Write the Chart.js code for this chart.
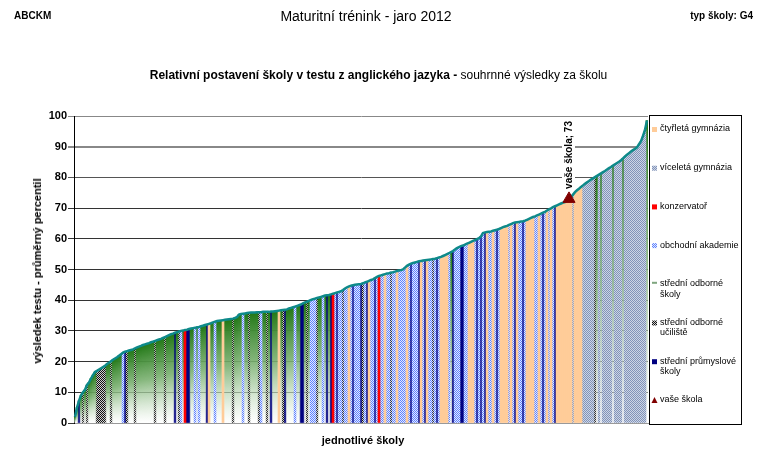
<!DOCTYPE html>
<html>
<head>
<meta charset="utf-8">
<script src="https://cdn.jsdelivr.net/npm/chart.js@4.4.1/dist/chart.umd.min.js"></script>
<style>
    body { margin: 0; background: #fff; font-family: "Liberation Sans", Arial, sans-serif; }
    #wrap { position: relative; width: 765px; height: 453px; overflow: hidden; }
    #chart { position: absolute; left: 0; top: 0; }
    .t { position: absolute; white-space: nowrap; color: #000; }
</style>
</head>
<body>
<div id="wrap">
    <canvas id="chart" width="765" height="453"></canvas>
    <div class="t" style="left:14px; top:10px; font-size:10px; font-weight:bold;">ABCKM</div>
    <div class="t" style="left:0; width:732px; text-align:center; top:8px; font-size:14px;">Maturitní trénink - jaro 2012</div>
    <div class="t" style="right:12px; top:10px; font-size:10px; font-weight:bold;">typ školy: G4</div>
    <div class="t" style="left:0; width:757px; text-align:center; top:68px; font-size:12px;"><b>Relativní postavení školy v testu z anglického jazyka -</b> souhrnné výsledky za školu</div>
    <div class="t" style="left:0; width:726px; text-align:center; top:434px; font-size:11px; font-weight:bold;">jednotlivé školy</div>
    <div class="t" style="left:37px; top:271px; font-size:11px; font-weight:bold; transform: translate(-50%,-50%) rotate(-90deg);">výsledek testu - průměrný percentil</div>
</div>
<script>
// average percentile of each school, sorted (one bar per school)
const results = [
    2.0, 5.0, 7.2, 9.0, 10.0, 10.8, 12.4, 13.2, 14.5, 15.6,
    16.6, 17.0, 17.4, 17.8, 18.2, 18.6, 19.2, 19.6, 20.1, 20.6,
    21.0, 21.4, 21.9, 22.4, 22.9, 23.2, 23.4, 23.6, 23.8, 24.0,
    24.3, 24.6, 24.9, 25.1, 25.4, 25.6, 25.8, 26.0, 26.3, 26.5,
    26.7, 27.0, 27.2, 27.4, 27.7, 28.0, 28.3, 28.6, 28.9, 29.1,
    29.4, 29.6, 29.8, 30.0, 30.1, 30.3, 30.4, 30.6, 30.8, 30.9,
    31.0, 31.2, 31.3, 31.5, 31.7, 31.9, 32.1, 32.3, 32.5, 32.8,
    33.0, 33.2, 33.3, 33.4, 33.5, 33.6, 33.7, 33.8, 33.9, 34.0,
    34.2, 34.5, 35.3, 35.5, 35.6, 35.7, 35.8, 35.9, 36.0, 36.0,
    36.0, 36.1, 36.1, 36.1, 36.2, 36.2, 36.2, 36.2, 36.3, 36.3,
    36.4, 36.5, 36.6, 36.7, 36.8, 36.9, 37.0, 37.3, 37.5, 37.7,
    37.9, 38.1, 38.4, 38.6, 39.0, 39.3, 39.5, 39.8, 40.1, 40.3,
    40.5, 40.7, 40.9, 41.1, 41.3, 41.5, 41.6, 41.7, 41.9, 42.1,
    42.3, 42.5, 42.7, 42.9, 43.3, 43.8, 44.2, 44.5, 44.7, 44.9,
    45.0, 45.1, 45.2, 45.3, 45.5, 45.8, 46.0, 46.3, 46.6, 46.8,
    47.2, 47.6, 47.9, 48.1, 48.3, 48.5, 48.7, 48.8, 49.0, 49.1,
    49.3, 49.5, 49.7, 49.8, 50.0, 50.6, 51.2, 51.6, 51.9, 52.1,
    52.3, 52.5, 52.7, 52.8, 52.9, 53.0, 53.1, 53.2, 53.3, 53.4,
    53.5, 53.7, 53.9, 54.1, 54.4, 54.7, 55.0, 55.3, 55.7, 56.0,
    56.5, 57.0, 57.3, 57.6, 57.8, 58.1, 58.4, 58.7, 59.0, 59.3,
    59.6, 59.9, 60.2, 60.8, 61.9, 62.1, 62.2, 62.3, 62.4, 62.6,
    62.8, 63.0, 63.2, 63.5, 63.8, 64.0, 64.2, 64.5, 64.8, 65.1,
    65.3, 65.4, 65.5, 65.6, 65.7, 65.9, 66.2, 66.5, 66.8, 67.1,
    67.3, 67.6, 67.9, 68.2, 68.5, 68.8, 69.2, 69.6, 69.9, 70.3,
    70.6, 70.9, 71.2, 71.5, 71.8, 72.0, 72.3, 73.0, 73.6, 74.4,
    75.2, 75.8, 76.3, 76.9, 77.4, 77.9, 78.4, 78.8, 79.3, 79.7,
    80.1, 80.5, 80.9, 81.3, 81.7, 82.1, 82.6, 83.0, 83.4, 83.9,
    84.3, 84.7, 85.1, 85.6, 86.2, 86.8, 87.4, 87.9, 88.4, 88.9,
    89.3, 89.8, 90.8, 91.8, 93.5, 95.5, 98.5
];

// school type of each bar: P=G4, V=G8, K=konzervatoř, O=OA, S=SOŠ, U=SOU, T=SPŠ
const schoolTypes = (
    "SSTSUSUSSS" + "SUUUUUSSUS" + "SSSSOTUSSS" + "USSSSSSSSS" + "USSSSUSSSS" +
    "TSUOSKTTSS" + "OSOSSSTPSS" + "OSSSPSSSSU" + "SSSSOSSUSS" + "SSUOSSUSTS" +
    "SSPSUTSSSS" + "OSSTTSUSOO" + "OUSSOSTSTK" + "OTOOUOOPOT" + "OOOTUOTPOO" +
    "TOKOOPOOUO" + "OPOOOOPOTO" + "OOTPOTPOOU" + "OTOPPPPOST" + "OOOTTOOPPP" +
    "OTOTOTPOOP" + "OTOPPPPOPO" + "TPOOTOPPPP" + "OOPOTOPOPO" + "TPPPPPPPPV" +
    "PPPPVVVVVV" + "USVSVVVVVS" + "VVVVSVVVVV" + "VVVVVVS"
).split('');

const typeCodes = ['P', 'V', 'K', 'O', 'S', 'U', 'T'];
const typeNames = [
    ['čtyřletá gymnázia'],
    ['víceletá gymnázia'],
    ['konzervatoř'],
    ['obchodní akademie'],
    ['střední odborné', 'školy'],
    ['střední odborné', 'učiliště'],
    ['střední průmyslové', 'školy']
];
const ourSchoolName = 'vaše škola';
const ourSchoolIndex = 247;
const ourSchoolValue = 73;
const yTicks = [0, 10, 20, 30, 40, 50, 60, 70, 80, 90, 100];

const schoolLabels = results.map((v, i) => String(i + 1));

// small pixel patterns like the original spreadsheet fills
function checker(c1, c2) {
    const cv = document.createElement('canvas');
    cv.width = 2; cv.height = 2;
    const g = cv.getContext('2d');
    g.fillStyle = c2; g.fillRect(0, 0, 2, 2);
    g.fillStyle = c1; g.fillRect(0, 0, 1, 1); g.fillRect(1, 1, 1, 1);
    return g.createPattern(cv, 'repeat');
}

function greenFill(context) {
    const chart = context.chart;
    const v = context.raw;
    if (!chart.chartArea || v == null) return '#3a8a2a';
    const y = chart.scales.y;
    const top = y.getPixelForValue(v);
    const bottom = y.getPixelForValue(0);
    const g = chart.ctx.createLinearGradient(0, top, 0, bottom);
    g.addColorStop(0, 'rgba(34,120,22,1)');
    g.addColorStop(0.45, 'rgba(120,175,110,0.85)');
    g.addColorStop(1, 'rgba(255,255,255,0.4)');
    return g;
}

const typeFills = {
    P: '#FFCC99',
    V: checker('#8193B9', '#CDD5E5'),
    K: '#FF0000',
    O: checker('#5F82FF', '#E2E9FF'),
    S: greenFill,
    U: checker('#111111', '#D0D0D0'),
    T: '#000080'
};

const datasets = typeCodes.map(code => ({
    type: 'bar',
    label: code,
    data: results.map((v, i) => schoolTypes[i] === code ? v : null),
    backgroundColor: typeFills[code],
    borderWidth: 0,
    barPercentage: 1,
    categoryPercentage: 1,
    grouped: false,
    order: 2
}));

datasets.push({
    type: 'line',
    label: 'curve',
    data: results,
    borderColor: '#0E8A8A',
    borderWidth: 2.5,
    pointRadius: 0,
    tension: 0,
    order: 1
});

datasets.push({
    type: 'line',
    label: ourSchoolName,
    data: results.map((v, i) => i === ourSchoolIndex ? ourSchoolValue : null),
    showLine: false,
    pointStyle: 'triangle',
    pointRadius: 7,
    backgroundColor: '#800000',
    borderColor: '#800000',
    order: 0
});

// rotated label above our school
const ourLabelPlugin = {
    id: 'ourLabel',
    afterDatasetsDraw(chart) {
        const c = chart.ctx;
        const x = chart.scales.x.getPixelForValue(ourSchoolIndex);
        const y = chart.scales.y.getPixelForValue(ourSchoolValue) - 10;
        const text = ourSchoolName + '; ' + ourSchoolValue;
        c.save();
        c.translate(x, y);
        c.rotate(-Math.PI / 2);
        c.font = 'bold 10px "Liberation Sans", Arial, sans-serif';
        const w = c.measureText(text).width;
        c.fillStyle = '#fff';
        c.fillRect(-1, -7, w + 3, 13);
        c.fillStyle = '#000';
        c.textBaseline = 'middle';
        c.fillText(text, 0, 0);
        c.restore();
    }
};

// legend box on the right
const sideLegendPlugin = {
    id: 'sideLegend',
    afterDraw(chart) {
        const c = chart.ctx;
        c.save();
        c.fillStyle = '#fff';
        c.fillRect(649, 115, 92, 309);
        c.strokeStyle = '#000';
        c.lineWidth = 1;
        c.strokeRect(649.5, 115.5, 92, 309);
        c.font = '9px "Liberation Sans", Arial, sans-serif';
        c.textBaseline = 'middle';
        const items = typeCodes.map((code, k) => ({ code: code, lines: typeNames[k] }));
        items.push({ code: 'me', lines: [ourSchoolName] });
        items.forEach((item, k) => {
            const y = 129 + k * 38.7;
            if (item.code === 'S') {
                c.fillStyle = '#7FA67F';
                c.fillRect(652, y - 2, 5, 2);
            } else if (item.code === 'me') {
                c.fillStyle = '#800000';
                c.beginPath();
                c.moveTo(651.5, y + 3);
                c.lineTo(657.5, y + 3);
                c.lineTo(654.5, y - 3);
                c.closePath();
                c.fill();
            } else {
                c.fillStyle = typeFills[item.code];
                c.fillRect(652, y - 2, 5, 5);
            }
            c.fillStyle = '#000';
            item.lines.forEach((ln, j) => c.fillText(ln, 660, y + j * 10.5));
        });
        c.restore();
    }
};

new Chart(document.getElementById('chart'), {
    type: 'bar',
    data: { labels: schoolLabels, datasets: datasets },
    plugins: [ourLabelPlugin, sideLegendPlugin],
    options: {
        responsive: false,
        animation: false,
        layout: { padding: { left: 0, right: 117, top: 116, bottom: 30 } },
        plugins: { legend: { display: false }, tooltip: { enabled: false } },
        scales: {
            x: {
                ticks: { display: false },
                grid: { display: false, drawTicks: false },
                border: { display: true, color: '#999' },
                afterFit(s) { s.height = 0; }
            },
            y: {
                min: 0,
                max: 100,
                afterBuildTicks(s) { s.ticks = yTicks.map(v => ({ value: v })); },
                ticks: {
                    color: '#000',
                    padding: 1,
                    font: { family: '"Liberation Sans", Arial, sans-serif', size: 11, weight: 'bold' }
                },
                grid: {
                    color: c => c.tick && c.tick.value >= 90 ? '#888' : (c.tick && c.tick.value === 80 ? '#555' : '#333'),
                    lineWidth: c => c.tick && c.tick.value === 90 ? 2 : 1,
                    tickLength: 6
                },
                border: { display: true, color: '#000' },
                afterFit(s) { s.width = 74; }
            }
        }
    }
});
</script>
</body>
</html>
